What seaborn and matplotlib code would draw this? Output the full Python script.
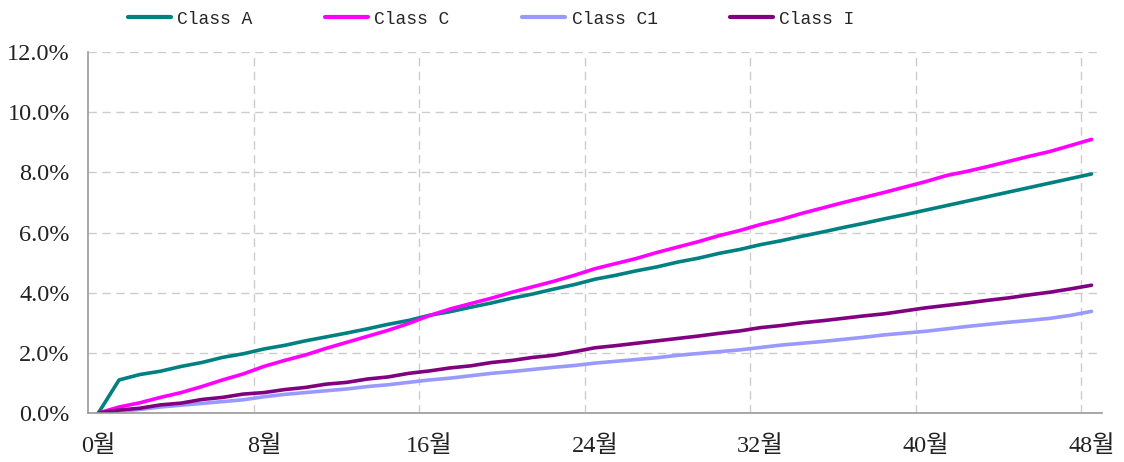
import pandas as pd
import matplotlib.pyplot as plt
import seaborn as sns
from matplotlib.ticker import FixedLocator, FuncFormatter

# months 0..48
months = list(range(49))

class_a = [0.00, 1.10, 1.28, 1.39, 1.55, 1.68, 1.85, 1.97, 2.13, 2.25,
           2.40, 2.53, 2.66, 2.80, 2.95, 3.08, 3.25, 3.37, 3.52, 3.66,
           3.82, 3.96, 4.12, 4.27, 4.45, 4.58, 4.73, 4.86, 5.02, 5.15,
           5.31, 5.44, 5.60, 5.73, 5.88, 6.02, 6.17, 6.31, 6.46, 6.60,
           6.75, 6.90, 7.05, 7.20, 7.35, 7.50, 7.65, 7.80, 7.95]

class_c = [0.00, 0.20, 0.34, 0.52, 0.68, 0.88, 1.10, 1.30, 1.55, 1.75,
           1.93, 2.15, 2.35, 2.55, 2.75, 2.98, 3.24, 3.46, 3.64, 3.82,
           4.02, 4.20, 4.38, 4.58, 4.80, 4.97, 5.14, 5.34, 5.52, 5.70,
           5.90, 6.07, 6.27, 6.44, 6.64, 6.82, 7.00, 7.17, 7.34, 7.52,
           7.70, 7.90, 8.04, 8.20, 8.37, 8.54, 8.70, 8.90, 9.10]

class_c1 = [0.00, 0.06, 0.12, 0.20, 0.26, 0.32, 0.38, 0.44, 0.54, 0.62,
            0.68, 0.74, 0.80, 0.88, 0.94, 1.02, 1.10, 1.16, 1.24, 1.32,
            1.38, 1.45, 1.52, 1.58, 1.66, 1.72, 1.78, 1.84, 1.92, 1.98,
            2.04, 2.10, 2.18, 2.26, 2.32, 2.38, 2.45, 2.52, 2.60, 2.66,
            2.72, 2.80, 2.88, 2.95, 3.02, 3.08, 3.15, 3.25, 3.38]

class_i = [0.00, 0.10, 0.16, 0.27, 0.33, 0.45, 0.52, 0.63, 0.68, 0.78,
           0.85, 0.96, 1.02, 1.13, 1.20, 1.32, 1.40, 1.50, 1.57, 1.68,
           1.75, 1.85, 1.92, 2.04, 2.17, 2.24, 2.32, 2.40, 2.48, 2.56,
           2.65, 2.73, 2.84, 2.91, 3.00, 3.07, 3.15, 3.23, 3.30, 3.40,
           3.50, 3.58, 3.66, 3.75, 3.83, 3.93, 4.02, 4.13, 4.25]

series_names = ['Class A', 'Class C', 'Class C1', 'Class I']
colors = ['#008080', '#FF00FF', '#9999FF', '#800080']
tick_months = [0, 8, 16, 24, 32, 40, 48]

# long-form table for seaborn
df = pd.concat([
    pd.DataFrame({'month': months, 'rate': vals, 'class': name})
    for name, vals in zip(series_names, [class_a, class_c, class_c1, class_i])
])

sns.set_style('white')
plt.rcParams['font.family'] = ['Liberation Serif', 'Noto Sans CJK KR']

fig = plt.figure(figsize=(11.24, 4.62), dpi=100)
ax = fig.add_axes([0.0783, 0.106, 0.902, 0.781])

sns.lineplot(data=df, x='month', y='rate', hue='class', hue_order=series_names,
             palette=colors, linewidth=2.6, ax=ax, legend=False)

ax.set_xlim(-0.5, 48.5)
ax.set_ylim(0, 12)

# category-style axis: labels at month centres, grid between categories
ax.xaxis.set_major_locator(FixedLocator(tick_months))
ax.set_xticklabels([f'{m}월' for m in tick_months])
ax.xaxis.set_minor_locator(FixedLocator([m - 0.5 for m in tick_months[1:]]))
ax.yaxis.set_major_locator(FixedLocator([0, 2, 4, 6, 8, 10, 12]))
ax.yaxis.set_major_formatter(FuncFormatter(lambda v, p: f'{v:.1f}%'))

ax.grid(False)
ax.grid(True, which='major', axis='y', color='#CCCCCC', linestyle=(0, (6, 4)), linewidth=1)
ax.grid(True, which='minor', axis='x', color='#CCCCCC', linestyle=(0, (6, 4)), linewidth=1)

ax.tick_params(axis='x', which='major', length=0, pad=16, labelsize=17.5, colors='#222222')
ax.tick_params(axis='x', which='minor', length=4, direction='in', color='#999999')
ax.tick_params(axis='y', which='major', length=4, direction='in', color='#999999',
               pad=13, labelsize=17.5, colors='#222222')

for side in ['top', 'right']:
    ax.spines[side].set_visible(False)
for side in ['left', 'bottom']:
    ax.spines[side].set_color('#999999')
    ax.spines[side].set_linewidth(1.2)

ax.set_xlabel('')
ax.set_ylabel('')

handles = [plt.Line2D([], [], color=c, linewidth=3) for c in colors]
fig.legend(handles, series_names, loc='upper center', bbox_to_anchor=(0.437, 1.012),
           ncol=4, frameon=False, handlelength=2.4, handletextpad=0.35,
           columnspacing=4.0, prop={'family': 'Liberation Mono', 'size': 13})

fig.savefig('out.png', dpi=100)
